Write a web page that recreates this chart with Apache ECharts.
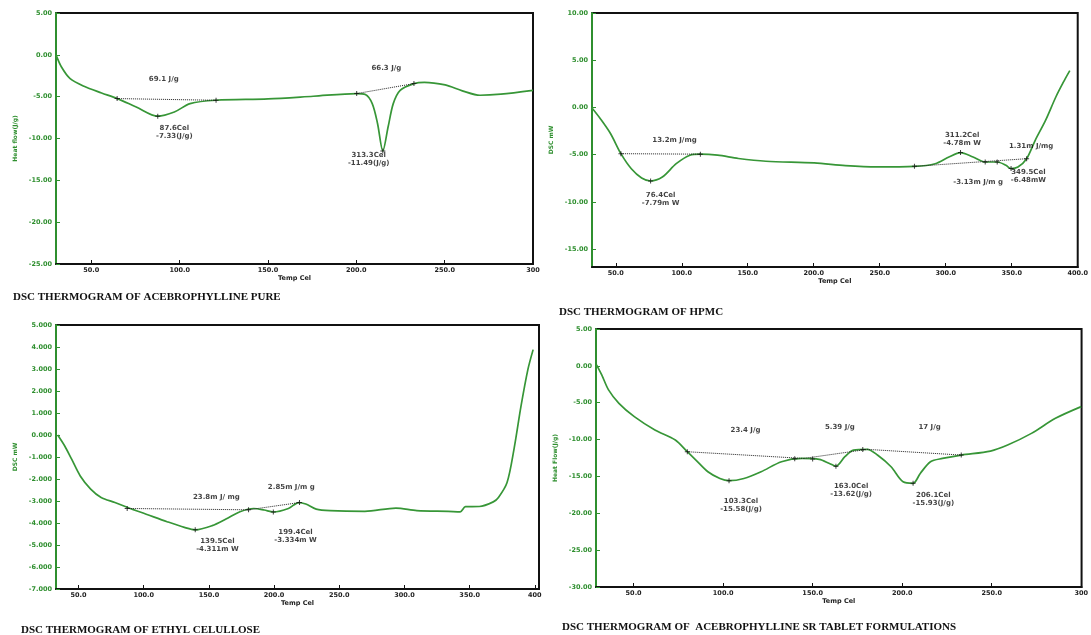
<!DOCTYPE html>
<html>
<head>
<meta charset="utf-8">
<title>DSC thermograms</title>
<script src="https://cdn.jsdelivr.net/npm/echarts@6/dist/echarts.min.js"></script>
<style>
  html, body { margin: 0; padding: 0; background: #fff; }
  #chart { width: 1091px; height: 635px; }
</style>
</head>
<body>
<div id="chart"></div>
<script>
// ---- values ----

// acebrophylline pure
var temp1 = [30, 33.1, 38, 45.9, 55.8, 64.6, 75.4, 87.6, 97, 105.9, 120.6, 150, 175.6, 200.2, 205.1, 209, 212, 215, 218, 220.9, 224.8, 232.6, 238.5, 250.3, 260, 270, 281.8, 300];
var flow1 = [0, -1.45, -2.84, -3.76, -4.56, -5.23, -6.23, -7.33, -6.83, -5.83, -5.43, -5.27, -4.95, -4.63, -4.75, -5.83, -8.2, -11.49, -8.6, -5.83, -4.24, -3.44, -3.28, -3.6, -4.3, -4.83, -4.7, -4.24];
var base1 = [[[64.6, -5.23], [120.6, -5.43]], [[200.2, -4.63], [232.6, -3.44]]];
var marks1 = [[64.6, -5.23], [87.6, -7.33], [120.6, -5.43], [200.2, -4.63], [215, -11.49], [232.6, -3.44]];
var notes1 = [[91, -2.95, '69.1 J/g'], [97, -9.25, '87.6Cel\n-7.33(J/g)'], [217, -1.6, '66.3 J/g'], [207, -12.5, '313.3Cel\n-11.49(J/g)']];

// HPMC
var temp2 = [31.7, 38.2, 46, 53.9, 61.8, 69.6, 76.4, 85.3, 95.8, 106.2, 114.1, 127.2, 142.9, 163.8, 200.4, 224, 247.5, 276.3, 292, 302.4, 311.2, 320.7, 329.9, 339, 345.6, 349.5, 354.7, 361.3, 367.8, 375.7, 383.5, 390, 394];
var flow2 = [0, -1.17, -2.76, -4.9, -6.5, -7.47, -7.79, -7.37, -5.96, -5.06, -4.95, -5.06, -5.41, -5.7, -5.88, -6.16, -6.3, -6.24, -5.96, -5.25, -4.78, -5.25, -5.78, -5.78, -6.13, -6.48, -6.31, -5.43, -3.48, -1.35, 1.13, 2.9, 3.9];
var base2 = [[[53.9, -4.9], [114.1, -4.95]], [[276.3, -6.24], [361.3, -5.43]]];
var marks2 = [[53.9, -4.9], [76.4, -7.79], [114.1, -4.95], [276.3, -6.24], [311.2, -4.78], [329.9, -5.78], [339, -5.78], [349.5, -6.48], [361.3, -5.43]];
var notes2 = [[94.5, -3.5, '13.2m J/mg'], [84, -9.75, '76.4Cel\n-7.79m W'], [312.4, -3.4, '311.2Cel\n-4.78m W'], [364.7, -4.06, '1.31m J/mg'], [324.6, -7.95, '-3.13m J/m g'], [362.6, -7.25, '349.5Cel\n-6.48mW']];

// ethyl cellulose
var temp3 = [34, 39.4, 44.7, 51.3, 59.3, 67.3, 77.9, 88.6, 101.9, 117.9, 131.2, 139.5, 152.5, 163.1, 173.8, 184.4, 192.4, 199.4, 211, 219, 224.3, 232.3, 243, 269.6, 293.5, 309.5, 333.5, 342.8, 346.8, 357.4, 368.1, 372.1, 378.7, 384, 389.4, 394.7, 398.7];
var flow3 = [0, -0.5, -1.1, -1.86, -2.46, -2.84, -3.07, -3.32, -3.6, -3.94, -4.2, -4.31, -4.12, -3.82, -3.49, -3.34, -3.41, -3.5, -3.34, -3.07, -3.14, -3.37, -3.44, -3.47, -3.32, -3.44, -3.47, -3.49, -3.26, -3.25, -3.04, -2.84, -2.16, -0.65, 1.31, 2.98, 3.88];
var base3 = [[[87.3, -3.34], [180.4, -3.4]], [[180.4, -3.4], [219.5, -3.07]]];
var marks3 = [[87.3, -3.34], [139.5, -4.31], [180.4, -3.4], [199.4, -3.5], [219.5, -3.07]];
var notes3 = [[155.7, -2.84, '23.8m J/ mg'], [213.2, -2.39, '2.85m J/m g'], [156.5, -5.0, '139.5Cel\n-4.311m W'], [216.4, -4.62, '199.4Cel\n-3.334m W']];

// acebrophylline SR tablet
var temp4 = [29.3, 32.2, 36, 41.8, 50.4, 61.9, 73.3, 80, 84.8, 91.5, 98.2, 103.3, 111.6, 121.2, 132.6, 144.1, 153.7, 159.4, 163, 168, 172.8, 180.5, 186.2, 193.8, 200.5, 206.1, 210.1, 215.8, 222.5, 233, 249.3, 258.9, 272.2, 285.6, 300];
var flow4 = [0.14, -1.22, -3.26, -5.08, -6.89, -8.7, -10.06, -11.65, -12.78, -14.37, -15.28, -15.58, -15.28, -14.37, -13, -12.56, -12.69, -13.24, -13.62, -12.33, -11.42, -11.33, -12.1, -13.69, -15.73, -15.93, -14.6, -13, -12.56, -12.1, -11.56, -10.74, -9.16, -7.12, -5.53];
var base4 = [[[80, -11.65], [145, -12.56]], [[145, -12.56], [180.5, -11.33]], [[180.5, -11.33], [233, -12.1]]];
var marks4 = [[80, -11.65], [103.3, -15.58], [140, -12.6], [150, -12.62], [163, -13.62], [178, -11.33], [206.1, -15.93], [233, -12.1]];
var notes4 = [[112.5, -8.7, '23.4 J/g'], [165.2, -8.34, '5.39 J/g'], [215.3, -8.34, '17 J/g'], [110, -18.9, '103.3Cel\n-15.58(J/g)'], [171.5, -16.9, '163.0Cel\n-13.62(J/g)'], [217.4, -18.1, '206.1Cel\n-15.93(J/g)']];

// axis ticks
var xTicks1 = [50, 100, 150, 200, 250, 300];
var xTicks2 = [50, 100, 150, 200, 250, 300, 350, 400];
var xTicks3 = [50, 100, 150, 200, 250, 300, 350, 400];
var xTicks4 = [50, 100, 150, 200, 250, 300];
var yTicks1 = [5, 0, -5, -10, -15, -20, -25];
var yTicks2 = [10, 5, 0, -5, -10, -15];
var yTicks3 = [5, 4, 3, 2, 1, 0, -1, -2, -3, -4, -5, -6, -7];
var yTicks4 = [5, 0, -5, -10, -15, -20, -25, -30];

var titles = ['DSC THERMOGRAM OF ACEBROPHYLLINE PURE', 'DSC THERMOGRAM OF HPMC', 'DSC THERMOGRAM OF ETHYL CELULLOSE', 'DSC THERMOGRAM OF  ACEBROPHYLLINE SR TABLET FORMULATIONS'];

var GREEN = '#2f8f2f';
var CURVE = '#379637';
var FONT = 'DejaVu Sans';

var panels = [
  { t: temp1, f: flow1, base: base1, marks: marks1, notes: notes1, xt: xTicks1, yt: yTicks1, xmin: 30, xmax: 300, ymin: -25, ymax: 5, dec: 2, yname: 'Heat flow(J/g)', last: '300',
    grid: { left: 56, top: 13, width: 477, height: 251 } },
  { t: temp2, f: flow2, base: base2, marks: marks2, notes: notes2, xt: xTicks2, yt: yTicks2, xmin: 32, xmax: 400, ymin: -16.9, ymax: 10, dec: 2, yname: 'DSC mW', last: '400.0',
    grid: { left: 592, top: 13, width: 489, height: 254 } },
  { t: temp3, f: flow3, base: base3, marks: marks3, notes: notes3, xt: xTicks3, yt: yTicks3, xmin: 32.7, xmax: 403.2, ymin: -7, ymax: 5, dec: 3, yname: 'DSC mW', last: '400',
    grid: { left: 56, top: 325, width: 483, height: 264 } },
  { t: temp4, f: flow4, base: base4, marks: marks4, notes: notes4, xt: xTicks4, yt: yTicks4, xmin: 29, xmax: 300.2, ymin: -30, ymax: 5, dec: 2, yname: 'Heat Flow(J/g)', last: '300',
    grid: { left: 596, top: 329, width: 494, height: 258 } }
];

var titlePos = [[13, 298], [559, 313], [21, 631], [562, 628]];

var grids = [], xAxes = [], yAxes = [], series = [], texts = [];

panels.forEach(function (p, i) {
  grids.push({ left: p.grid.left, top: p.grid.top, width: p.grid.width, height: p.grid.height,
    show: true, borderColor: '#111', borderWidth: 2, containLabel: false });

  xAxes.push({
    type: 'value', gridIndex: i, min: p.xmin, max: p.xmax,
    name: 'Temp Cel', nameLocation: 'middle', nameGap: 10,
    nameTextStyle: { fontSize: 6.5, fontWeight: 'bold', color: '#222', fontFamily: FONT },
    axisLine: { show: true, onZero: false, lineStyle: { color: '#111', width: 2 } },
    axisTick: { show: true, inside: true, length: 4, customValues: p.xt, lineStyle: { color: '#111', width: 1 } },
    axisLabel: { customValues: p.xt, margin: 3, fontSize: 6.5, fontWeight: 'bold', color: '#222', fontFamily: FONT,
      formatter: function (v) { return v === p.xt[p.xt.length - 1] ? p.last : v.toFixed(1); } },
    splitLine: { show: false }
  });

  yAxes.push({
    type: 'value', gridIndex: i, min: p.ymin, max: p.ymax,
    name: p.yname, nameLocation: 'middle', nameGap: 38, nameRotate: 90,
    nameTextStyle: { fontSize: 6, fontWeight: 'bold', color: GREEN, fontFamily: FONT },
    axisLine: { show: true, onZero: false, lineStyle: { color: GREEN, width: 2 } },
    axisTick: { show: true, inside: true, length: 4, customValues: p.yt, lineStyle: { color: GREEN, width: 1 } },
    axisLabel: { customValues: p.yt, margin: 4, fontSize: 6.5, fontWeight: 'bold', color: GREEN, fontFamily: FONT,
      formatter: function (v) { return v.toFixed(p.dec); } },
    splitLine: { show: false }
  });

  series.push({
    type: 'line', xAxisIndex: i, yAxisIndex: i, smooth: 0.3, showSymbol: false,
    lineStyle: { color: CURVE, width: 1.7 },
    data: p.t.map(function (x, k) { return [x, p.f[k]]; }),
    z: 3
  });

  p.base.forEach(function (seg) {
    series.push({
      type: 'line', xAxisIndex: i, yAxisIndex: i, showSymbol: false,
      lineStyle: { color: '#222', width: 1, type: 'dotted' },
      data: seg, z: 4
    });
  });

  series.push({
    type: 'scatter', xAxisIndex: i, yAxisIndex: i,
    symbol: 'path://M4,0H6V10H4Z M0,4H10V6H0Z', symbolSize: 5,
    itemStyle: { color: '#111' }, data: p.marks, z: 5
  });

  series.push({
    type: 'scatter', xAxisIndex: i, yAxisIndex: i, symbolSize: 1,
    itemStyle: { color: 'rgba(0,0,0,0)' },
    label: { show: true, position: 'inside', fontSize: 7, fontWeight: 'bold', color: '#111', fontFamily: FONT,
      lineHeight: 8, align: 'center',
      formatter: function (q) { return q.value[2]; } },
    data: p.notes, z: 6
  });

  texts.push({
    type: 'text', left: titlePos[i][0], top: titlePos[i][1] - 6,
    style: { text: titles[i], font: 'bold 11px "Liberation Serif"', fill: '#111' }
  });
});

var chart = echarts.init(document.getElementById('chart'));
chart.setOption({
  backgroundColor: '#fff',
  animation: false,
  grid: grids,
  xAxis: xAxes,
  yAxis: yAxes,
  series: series,
  graphic: texts
});
</script>
</body>
</html>
